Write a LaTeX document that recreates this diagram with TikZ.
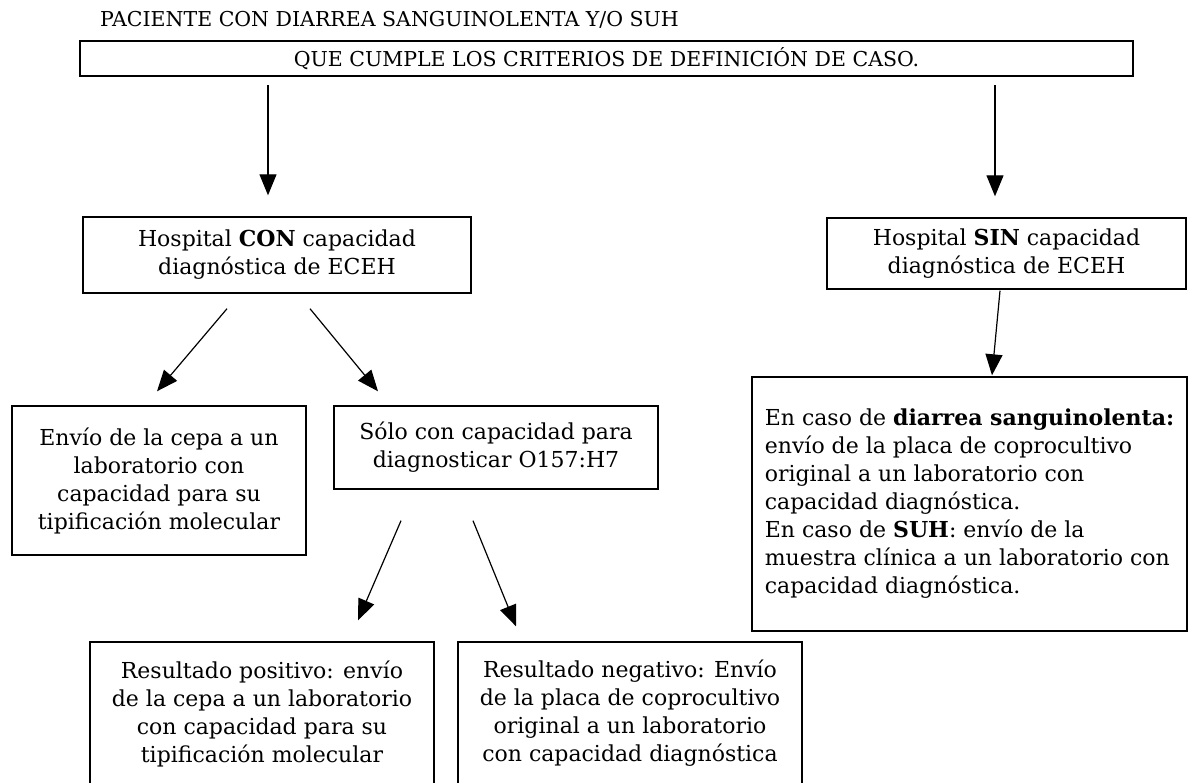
\documentclass[tikz,border=0pt]{standalone}
\usepackage{fontspec}
\setmainfont{DejaVu Serif}
\usetikzlibrary{arrows.meta,calc}
\begin{document}
\begin{tikzpicture}[x=1pt,y=-1pt,
  box/.style={draw, line width=1.4pt, inner sep=0pt, align=center, font=\fontsize{22}{28}\selectfont},
  caps/.style={font=\fontsize{20.5}{24}\selectfont},
  arr/.style={line width=1.2pt, -{Triangle[width=17pt,length=21pt]}}]
\useasboundingbox (0,0) rectangle (1188,782);
\node[caps, anchor=west, inner sep=0pt] (title) at (100,20) {PACIENTE CON DIARREA SANGUINOLENTA Y/O SUH};
\node[box, caps, line width=2pt, minimum width=1053pt, minimum height=35pt] (top) at (606.5,58.5) {QUE CUMPLE LOS CRITERIOS DE DEFINICIÓN DE CASO.};
\node[box, minimum width=388pt, minimum height=76pt] (con) at (277,255) {Hospital \textbf{CON} capacidad\\diagnóstica de ECEH};
\node[box, minimum width=359pt, minimum height=71pt] (sin) at (1006.5,253.5) {Hospital \textbf{SIN} capacidad\\diagnóstica de ECEH};
\node[box, minimum width=294pt, minimum height=149pt] (left) at (159,480.5) {Envío de la cepa a un\\laboratorio con\\capacidad para su\\tipificación molecular};
\node[box, minimum width=324pt, minimum height=83pt] (mid) at (496,447.5) {Sólo con capacidad para\\diagnosticar O157:H7};
\node[box, minimum width=344pt, minimum height=143pt] (bl) at (262,713.5) {Resultado positivo: envío\\de la cepa a un laboratorio\\con capacidad para su\\tipificación molecular};
\node[box, minimum width=344pt, minimum height=143pt] (br) at (630,713.5) {Resultado negativo: Envío\\de la placa de coprocultivo\\original a un laboratorio\\con capacidad diagnóstica};
\node[box, align=left, minimum width=435pt, minimum height=254pt] (big) at (969.5,504) {En caso de \textbf{diarrea sanguinolenta:}\\envío de la placa de coprocultivo\\original a un laboratorio con\\capacidad diagnóstica.\\En caso de \textbf{SUH}: envío de la\\muestra clínica a un laboratorio con\\capacidad diagnóstica.};
\draw[arr] ($(top.south)+(-338.5,8)$) -- ($(con.north)+(-9,-21)$);
\draw[arr] ($(top.south)+(388.5,8)$) -- ($(sin.north)+(-11.5,-21)$);
\draw[arr] ($(con.south)+(-50,15)$) -- ($(left.north)+(-2,-14)$);
\draw[arr] ($(con.south)+(33,15)$) -- ($(mid.north)+(-118,-14)$);
\draw[arr] ($(sin.south)+(-6.5,1)$) -- ($(big.north)+(22.5,-1)$);
\draw[arr] ($(mid.south)+(-95,31)$) -- ($(bl.north)+(96,-21)$);
\draw[arr] ($(mid.south)+(-23,31)$) -- ($(br.north)+(-114,-15)$);
\end{tikzpicture}
\end{document}
